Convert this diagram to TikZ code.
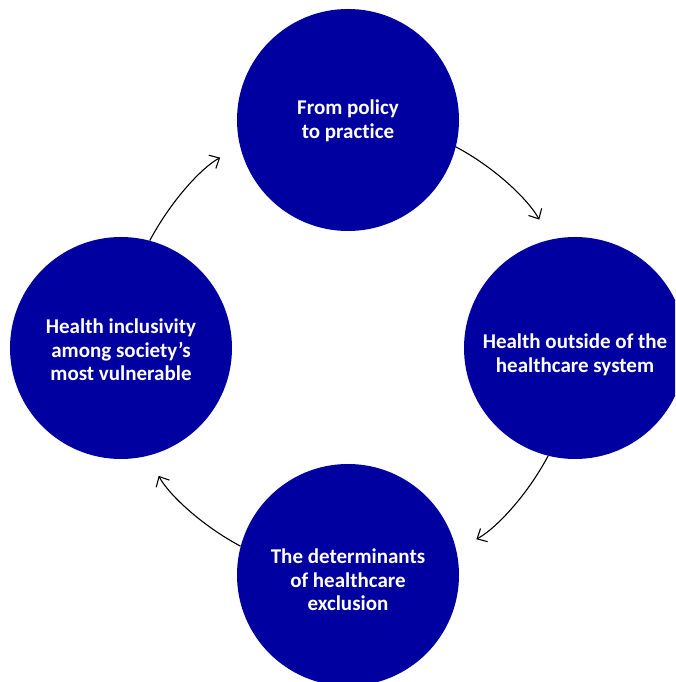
\documentclass[tikz,border=0pt]{standalone}
\usepackage{fontspec}
\setmainfont{Carlito}[Ligatures=NoCommon]
\usetikzlibrary{arrows.meta}
\definecolor{stagefill}{RGB}{0,0,160}
\begin{document}
\begin{tikzpicture}[x=1pt,y=1pt,
  stage/.style={circle, fill=stagefill, minimum size=222pt, inner sep=0pt},
  stagetext/.style={text=white, align=center, inner sep=0pt,
    font=\bfseries\fontsize{21}{23.5}\selectfont},
  cycle/.style={draw=black, line width=1.1pt,
    -{Straight Barb[length=8pt,width=15pt]}, shorten >=22.7pt, looseness=0.87}]
\useasboundingbox (0,0) rectangle (675,682);
\clip (0,0) rectangle (675,682);

% the four stages of the cycle
\node[stage] (policy)  at (348,562) {};
\node[stage] (outside) at (575,334) {};
\node[stage] (determ)  at (348,107) {};
\node[stage] (inclus)  at (121,334) {};

% their captions
\node[stagetext] (policytxt)  at ([yshift=-1pt]policy.center)  {From policy\\to practice};
\node[stagetext] (outsidetxt) at ([yshift=-7pt]outside.center) {Health outside of the\\healthcare system};
\node[stagetext] (determtxt)  at ([yshift=-5pt]determ.center)  {The determinants\\of healthcare\\exclusion};
\node[stagetext] (inclustxt)  at ([yshift=-2pt]inclus.center)  {Health inclusivity\\among society’s\\most vulnerable};

% clockwise arrows joining the stages
\draw[cycle] (policy.-14.5) to[out=-28,in=118.3] (outside.103.2);
\draw[cycle] (outside.-104.5) to[out=-118,in=28.3] (determ.13.2);
\draw[cycle] (determ.165.5) to[out=152,in=-61.7] (inclus.-76.8);
\draw[cycle] (inclus.75.5) to[out=62,in=-151.7] (policy.-166.8);
\end{tikzpicture}
\end{document}
